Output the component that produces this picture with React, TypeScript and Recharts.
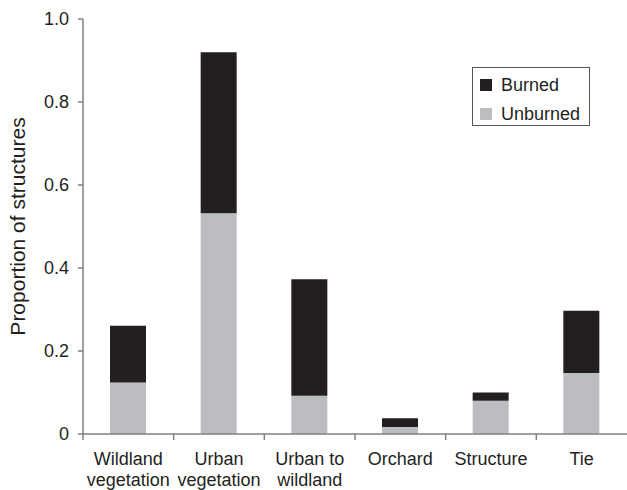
import React from 'react';
import { BarChart, Bar, XAxis, YAxis, Legend } from 'recharts';

const categories = ['Wildland vegetation', 'Urban vegetation', 'Urban to wildland', 'Orchard', 'Structure', 'Tie'];
const unburned = [0.124, 0.532, 0.092, 0.017, 0.08, 0.147];
const burned = [0.137, 0.388, 0.281, 0.021, 0.02, 0.15];
const yTicks = [0, 0.2, 0.4, 0.6, 0.8, 1.0];

const W = 627;
const H = 490;
const M = { top: 19, right: 0, bottom: 0, left: 0 };
const X_H = 56;
const Y_W = 83;
const BAND = (W - Y_W - M.left - M.right) / categories.length;

const BLACK = '#231f20';
const GRAY = '#bcbdc0';
const AXIS = '#808080';
const TEXT = '#231f20';
const FONT = 'Liberation Sans, Arial, sans-serif';

const data = categories.map((name, i) => ({ name, unburned: unburned[i], burned: burned[i] }));

const splitLabel = (s: string): string[] => {
  if (s === 'Urban to wildland') return ['Urban to', 'wildland'];
  const parts = s.split(' ');
  return parts.length > 1 ? parts : [s];
};

const XTick = (props: any) => {
  const { x, y, payload } = props;
  const lines = splitLabel(payload.value);
  const left = x - BAND / 2;
  return (
    <g>
      <line x1={left} y1={y - 8} x2={left} y2={y - 2} stroke={AXIS} strokeWidth={1.5} />
      <text x={x} y={y} textAnchor="middle" fill={TEXT} fontSize={18} fontFamily={FONT}>
        {lines.map((l, i) => (
          <tspan key={i} x={x} dy={i === 0 ? 23 : 21}>
            {l}
          </tspan>
        ))}
      </text>
    </g>
  );
};

const LegendBox = () => {
  const items = [
    { label: 'Burned', color: BLACK },
    { label: 'Unburned', color: GRAY },
  ];
  return (
    <div
      style={{
        border: '1.5px solid #555',
        width: 118,
        height: 59,
        boxSizing: 'border-box',
        padding: '8px 0 0 7px',
        fontFamily: FONT,
        fontSize: 18,
        color: TEXT,
        background: '#fff',
      }}
    >
      {items.map((it) => (
        <div key={it.label} style={{ display: 'flex', alignItems: 'center', height: 30, marginTop: it.label === 'Burned' ? -6 : -1 }}>
          <span style={{ width: 12, height: 12, background: it.color, display: 'inline-block', marginRight: 9 }} />
          <span>{it.label}</span>
        </div>
      ))}
    </div>
  );
};

export default function App() {
  return (
    <div style={{ width: W, height: H, background: '#fff' }}>
      <style>{'body{margin:0}'}</style>
      <BarChart width={W} height={H} data={data} margin={M} barSize={36}>
        <XAxis
          dataKey="name"
          axisLine={{ stroke: AXIS, strokeWidth: 1.5 }}
          tickLine={false}
          tick={<XTick />}
          interval={0}
          height={X_H}
        />
        <YAxis
          domain={[0, 1]}
          ticks={yTicks}
          width={Y_W}
          axisLine={{ stroke: AXIS, strokeWidth: 1.5 }}
          tickLine={{ stroke: AXIS, strokeWidth: 1.5 }}
          tickSize={5}
          tickMargin={9}
          tick={{ fill: TEXT, fontSize: 18, fontFamily: FONT }}
          tickFormatter={(v: number) => (v === 0 ? '0' : v.toFixed(1))}
          label={{
            value: 'Proportion of structures',
            angle: -90,
            position: 'insideLeft',
            dx: 13,
            style: { fill: TEXT, fontSize: 21, fontFamily: FONT, textAnchor: 'middle' },
          }}
        />
        <Legend
          content={<LegendBox />}
          layout="horizontal"
          verticalAlign="middle"
          align="center"
          wrapperStyle={{ position: 'absolute', left: 472, top: 67, width: 118, height: 59 }}
        />
        <Bar dataKey="unburned" stackId="a" fill={GRAY} isAnimationActive={false} />
        <Bar dataKey="burned" stackId="a" fill={BLACK} isAnimationActive={false} />
      </BarChart>
    </div>
  );
}
